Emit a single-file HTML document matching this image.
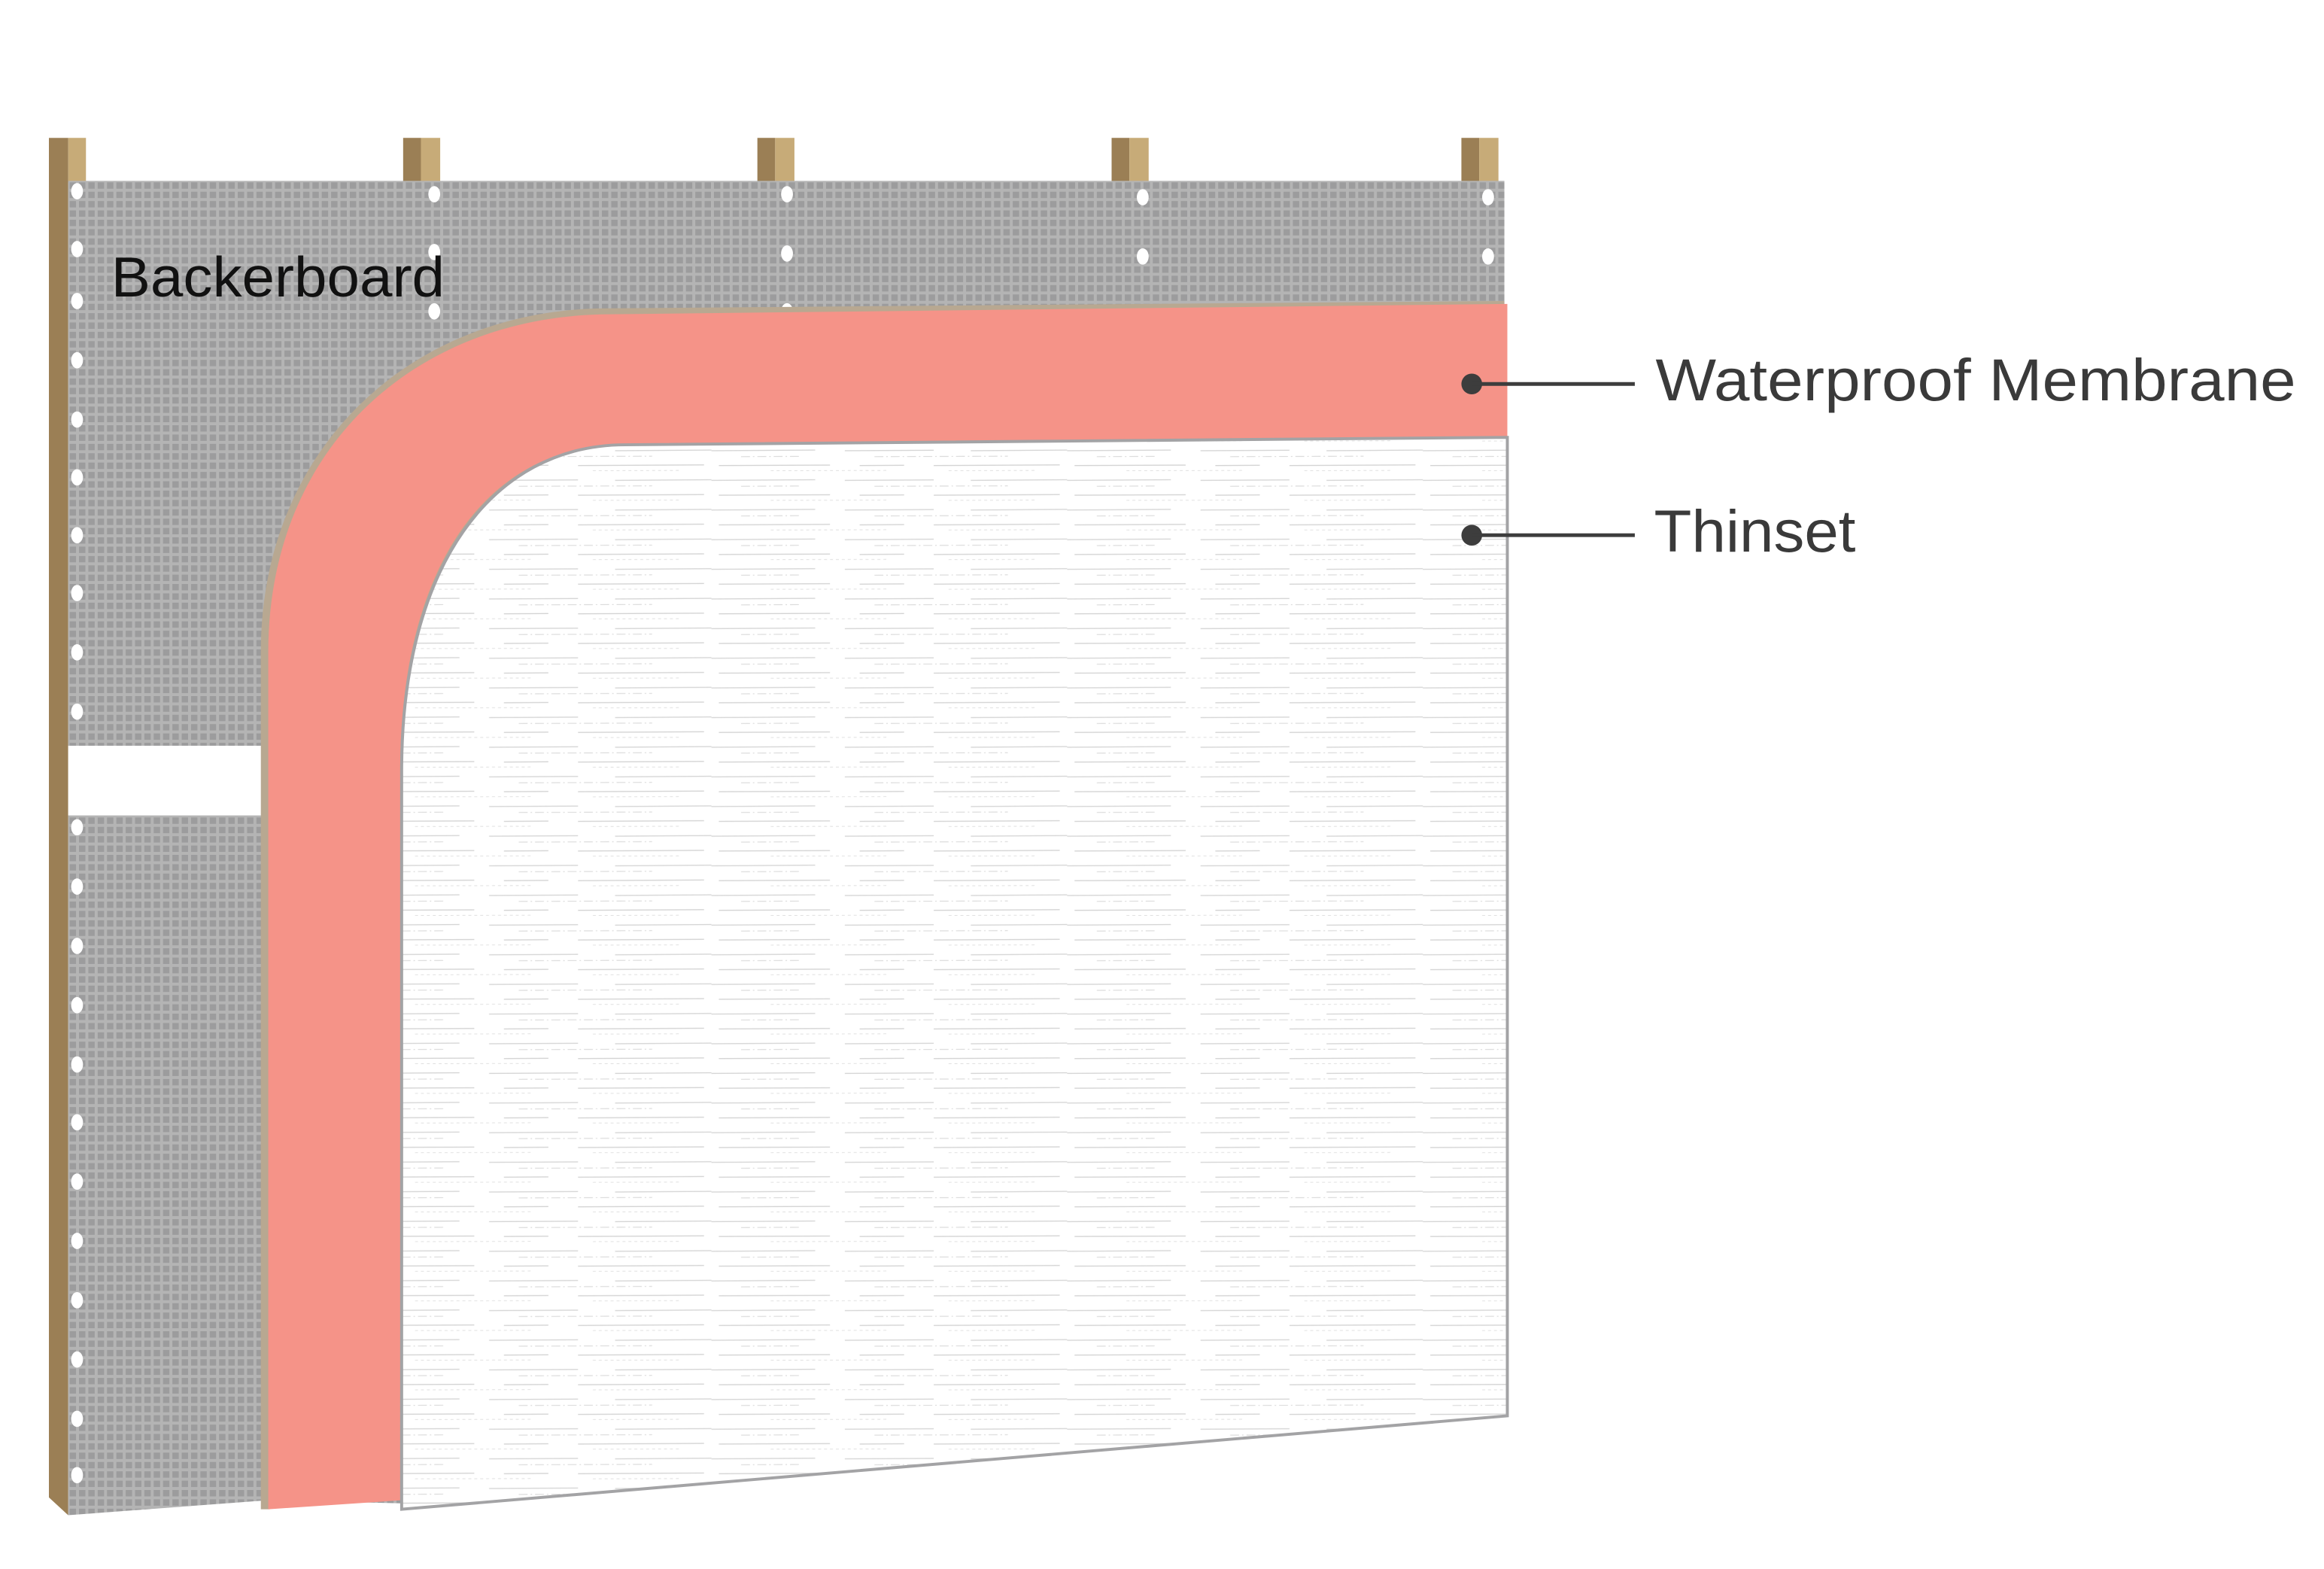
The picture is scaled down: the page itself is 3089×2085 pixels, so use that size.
<!DOCTYPE html>
<html><head><meta charset="utf-8"><style>html,body{margin:0;padding:0;background:#fff;}svg{display:block;}</style></head>
<body>
<svg width="3089" height="2085" viewBox="0 0 1568 1058.3" preserveAspectRatio="none" xmlns="http://www.w3.org/2000/svg">
<defs>
<pattern id="grid" x="46" y="122" width="6.3" height="6.3" patternUnits="userSpaceOnUse">
<rect width="6.3" height="6.3" fill="#b4b4b4"/>
<rect x="1" y="1" width="4.3" height="4.3" fill="#9c9c9d"/>
</pattern>
<pattern id="thin" x="0" y="0" width="240" height="20" patternUnits="userSpaceOnUse">
<rect width="240" height="20" fill="#fff"/>
<path d="M0,4 L70,3.6 M90,4 L150,3.7 M175,4 L240,3.6" stroke="#d6d6d6" stroke-width="0.7"/>
<path d="M20,8 L60,7.8 M110,8 L200,7.7" stroke="#dcdcdc" stroke-width="0.6" stroke-dasharray="6 2 1 2"/>
<path d="M5,14 L80,13.7 M100,14 L130,13.8 M150,14 L235,13.6" stroke="#d4d4d4" stroke-width="0.7"/>
<path d="M40,17.5 L120,17.3 M160,17.5 L220,17.3" stroke="#e0e0e0" stroke-width="0.5" stroke-dasharray="2 2"/>
</pattern>
</defs>

<!-- studs -->
<path d="M33,93 L46,93 L46,1022 L33,1010 Z" fill="#9b7f55"/>
<rect x="46" y="93" width="12" height="30" fill="#c7ab78"/>
<g>
<rect x="272" y="93" width="12" height="30" fill="#9b7f55"/><rect x="284" y="93" width="13" height="30" fill="#c7ab78"/>
<rect x="511" y="93" width="12" height="30" fill="#9b7f55"/><rect x="523" y="93" width="13" height="30" fill="#c7ab78"/>
<rect x="750" y="93" width="12" height="30" fill="#9b7f55"/><rect x="762" y="93" width="13" height="30" fill="#c7ab78"/>
<rect x="986" y="93" width="12" height="30" fill="#9b7f55"/><rect x="998" y="93" width="13" height="30" fill="#c7ab78"/>
</g>

<!-- backerboard -->
<path d="M46,122 L1015,122 L1015,950 L271,1014 L180,1012 L46,1022 Z" fill="url(#grid)"/>
<rect x="46" y="503" width="132" height="47" fill="#fff"/>

<!-- holes -->
<g fill="#fff">
<ellipse cx="52" cy="129" rx="4" ry="5.5"/><ellipse cx="52" cy="168" rx="4" ry="5.5"/><ellipse cx="52" cy="203" rx="4" ry="5.5"/>
<ellipse cx="52" cy="243" rx="4" ry="5.5"/><ellipse cx="52" cy="283" rx="4" ry="5.5"/><ellipse cx="52" cy="322" rx="4" ry="5.5"/>
<ellipse cx="52" cy="361" rx="4" ry="5.5"/><ellipse cx="52" cy="400" rx="4" ry="5.5"/><ellipse cx="52" cy="440" rx="4" ry="5.5"/>
<ellipse cx="52" cy="480" rx="4" ry="5.5"/><ellipse cx="52" cy="518" rx="4" ry="5.5"/><ellipse cx="52" cy="558" rx="4" ry="5.5"/>
<ellipse cx="52" cy="598" rx="4" ry="5.5"/><ellipse cx="52" cy="638" rx="4" ry="5.5"/><ellipse cx="52" cy="678" rx="4" ry="5.5"/>
<ellipse cx="52" cy="718" rx="4" ry="5.5"/><ellipse cx="52" cy="757" rx="4" ry="5.5"/><ellipse cx="52" cy="797" rx="4" ry="5.5"/>
<ellipse cx="52" cy="837" rx="4" ry="5.5"/><ellipse cx="52" cy="877" rx="4" ry="5.5"/><ellipse cx="52" cy="917" rx="4" ry="5.5"/>
<ellipse cx="52" cy="957" rx="4" ry="5.5"/><ellipse cx="52" cy="995" rx="4" ry="5.5"/>
<ellipse cx="293" cy="131" rx="4" ry="5.5"/><ellipse cx="293" cy="170" rx="4" ry="5.5"/><ellipse cx="293" cy="210" rx="4" ry="5.5"/>
<ellipse cx="531" cy="131" rx="4" ry="5.5"/><ellipse cx="531" cy="171" rx="4" ry="5.5"/><ellipse cx="531" cy="210" rx="4" ry="5.5"/>
<ellipse cx="771" cy="133" rx="4" ry="5.5"/><ellipse cx="771" cy="173" rx="4" ry="5.5"/>
<ellipse cx="1004" cy="133" rx="4" ry="5.5"/><ellipse cx="1004" cy="173" rx="4" ry="5.5"/>
</g>

<text x="75" y="200" font-family="Liberation Sans, sans-serif" font-size="38" fill="#111" textLength="225" lengthAdjust="spacingAndGlyphs">Backerboard</text>

<!-- membrane tan edge -->
<path d="M176,1018 L176,440 C176,300 280,208 410,208 L1015,203 L1015,300 L182,1018 Z" fill="#b8a891"/>
<!-- membrane -->
<path d="M181,1018 L181,440 C181,300 283,212 412,212 L1017,205 L1017,295 L420,300 C330,300 270,380 270,520 L270,1012 Z" fill="#f59388"/>

<!-- thinset -->
<path d="M271,1018 L271,520 C271,382 332,300 422,300 L1017,295 L1017,955 Z" fill="url(#thin)" stroke="#a3a3a5" stroke-width="2"/>

<!-- connectors -->
<g fill="#3d3d3d" stroke="#3d3d3d">
<circle cx="993" cy="259" r="7" stroke="none"/>
<line x1="993" y1="259" x2="1103" y2="259" stroke-width="2.5"/>
<circle cx="993" cy="361" r="7" stroke="none"/>
<line x1="993" y1="361" x2="1103" y2="361" stroke-width="2.5"/>
</g>
<text x="1117" y="270" font-family="Liberation Sans, sans-serif" font-size="40" fill="#3a3a3a" textLength="432" lengthAdjust="spacingAndGlyphs">Waterproof Membrane</text>
<text x="1116" y="372" font-family="Liberation Sans, sans-serif" font-size="40" fill="#3a3a3a" textLength="136" lengthAdjust="spacingAndGlyphs">Thinset</text>
</svg>
</body></html>
